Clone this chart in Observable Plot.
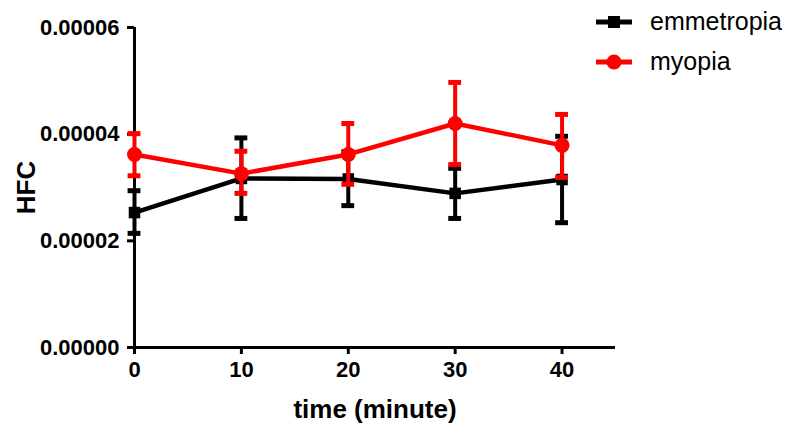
<!DOCTYPE html>
<html><head><meta charset="utf-8">
<script src="https://cdn.jsdelivr.net/npm/d3@7"></script>
<script src="https://cdn.jsdelivr.net/npm/@observablehq/plot@0.6"></script>
<style>
body{margin:0;background:#fff;font-family:"Liberation Sans",Arial,sans-serif;}
#wrap{position:relative;width:789px;height:426px;}
.leg{position:absolute;left:596px;font-size:25px;color:#000;display:flex;align-items:center;}
.leg svg{margin-right:18px;}
</style>
</head><body>
<div id="wrap"></div>
<script>
const times = [0, 10, 20, 30, 40];
const seriesNames = ["emmetropia", "myopia"];
const emmMean = [2.53e-5, 3.17e-5, 3.16e-5, 2.89e-5, 3.15e-5];
const emmLow  = [2.14e-5, 2.42e-5, 2.66e-5, 2.42e-5, 2.34e-5];
const emmHigh = [2.94e-5, 3.93e-5, 3.67e-5, 3.36e-5, 3.96e-5];
const myoMean = [3.62e-5, 3.26e-5, 3.62e-5, 4.20e-5, 3.79e-5];
const myoLow  = [3.22e-5, 2.89e-5, 3.06e-5, 3.43e-5, 3.19e-5];
const myoHigh = [4.01e-5, 3.68e-5, 4.20e-5, 4.97e-5, 4.37e-5];
const yTicks = [0, 2e-5, 4e-5, 6e-5];
const colors = {emmetropia: "#000000", myopia: "#ff0000"};

const rows = (name, m, lo, hi) => times.map((t, i) => ({series: name, t, m: m[i], lo: lo[i], hi: hi[i]}));
const emm = rows("emmetropia", emmMean, emmLow, emmHigh);
const myo = rows("myopia", myoMean, myoLow, myoHigh);
const capHalf = 0.6;

function seriesMarks(data, color, symbol, r) {
  return [
    Plot.ruleX(data, {x: "t", y1: "lo", y2: "hi", stroke: color, strokeWidth: 4}),
    Plot.ruleY(data, {y: "lo", x1: d => d.t - capHalf, x2: d => d.t + capHalf, stroke: color, strokeWidth: 5}),
    Plot.ruleY(data, {y: "hi", x1: d => d.t - capHalf, x2: d => d.t + capHalf, stroke: color, strokeWidth: 5}),
    Plot.line(data, {x: "t", y: "m", stroke: color, strokeWidth: 4.5}),
    Plot.dot(data, {x: "t", y: "m", fill: color, stroke: "none", symbol, r})
  ];
}

const chart = Plot.plot({
  width: 789, height: 426,
  marginLeft: 134, marginTop: 27, marginBottom: 79, marginRight: 174,
  style: {fontFamily: "'Liberation Sans', Arial, sans-serif", fontWeight: "bold", fontSize: "22px", color: "#000", background: "#fff"},
  x: {domain: [0, 45]},
  y: {domain: [0, 6e-5]},
  marks: [
    Plot.axisY({ticks: yTicks, tickFormat: d => d.toFixed(5), tickSize: 7, tickPadding: 8, strokeWidth: 3, fontSize: 22, label: null}),
    Plot.axisY({ticks: [], tickSize: 0, label: "HFC", labelAnchor: "center", labelArrow: "none", labelOffset: 118, fontSize: 26}),
    Plot.axisX({ticks: times, tickFormat: d => String(d), tickSize: 7, tickPadding: 7, strokeWidth: 3, fontSize: 22, label: null}),
    Plot.axisX({ticks: [], tickSize: 0, label: "time (minute)", labelAnchor: "center", labelArrow: "none", labelOffset: 70, fontSize: 26}),
    Plot.ruleX([0], {y1: 0, y2: 6e-5, strokeWidth: 3}),
    Plot.ruleY([0], {x1: 0, x2: 45, strokeWidth: 3}),
    ...seriesMarks(emm, colors.emmetropia, "square", 6.5),
    ...seriesMarks(myo, colors.myopia, "circle", 7.5)
  ]
});
const wrap = document.getElementById("wrap");
wrap.appendChild(chart);

const legendSym = {emmetropia: '<rect x="12" y="5" width="12" height="12" fill="#000"/>', myopia: '<circle cx="18" cy="11" r="7.5" fill="#ff0000"/>'};
seriesNames.forEach((name, i) => {
  const div = document.createElement("div");
  div.className = "leg";
  div.style.top = (7 + i * 40) + "px";
  div.innerHTML = `<svg width="36" height="22"><line x1="0" x2="36" y1="11" y2="11" stroke="${colors[name]}" stroke-width="5"/>${legendSym[name]}</svg><span>${name}</span>`;
  wrap.appendChild(div);
});
</script>
</body></html>
